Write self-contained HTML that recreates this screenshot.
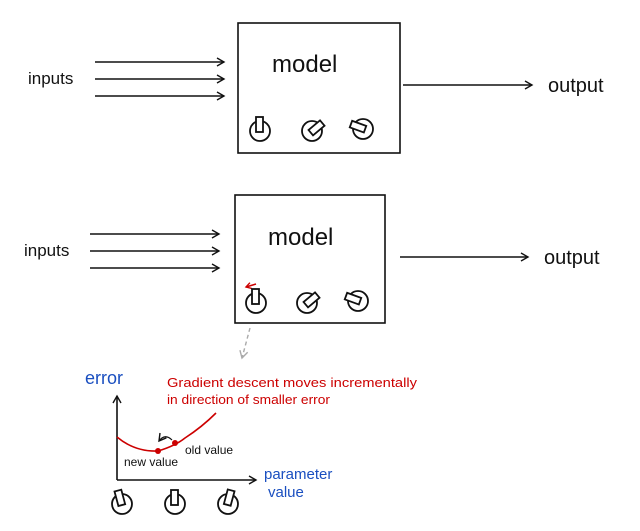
<!DOCTYPE html>
<html><head><style>
body{margin:0;background:#fff;}
svg text{font-family:"Comic Sans MS","Liberation Sans",sans-serif;}
</style></head><body>
<svg width="640" height="526" viewBox="0 0 640 526" xmlns="http://www.w3.org/2000/svg">
<defs>
<marker id="a" markerWidth="10" markerHeight="10" refX="8" refY="5" orient="auto" markerUnits="userSpaceOnUse">
<path d="M1,1 L8,5 L1,9" fill="none" stroke="#111" stroke-width="1.4"/></marker>
<marker id="g" markerWidth="10" markerHeight="10" refX="8" refY="5" orient="auto" markerUnits="userSpaceOnUse">
<path d="M1,1 L8,5 L1,9" fill="none" stroke="#aaa" stroke-width="1.4"/></marker>
<marker id="r" markerWidth="8" markerHeight="8" refX="6" refY="4" orient="auto" markerUnits="userSpaceOnUse">
<path d="M1,1 L6,4 L1,7" fill="none" stroke="#c00" stroke-width="1.4"/></marker>
<g id="k1"><circle r="10" fill="none" stroke="#111" stroke-width="1.8"/><rect x="-4" y="-14" width="7" height="15" fill="#fff" stroke="#111" stroke-width="1.8"/></g>
<g id="k2"><circle r="10" fill="none" stroke="#111" stroke-width="1.8"/><rect x="-3" y="-13" width="7" height="15" fill="#fff" stroke="#111" stroke-width="1.8" transform="rotate(50)"/></g>
<g id="k3"><circle r="10" fill="none" stroke="#111" stroke-width="1.8"/><rect x="-3" y="-13" width="7" height="15" fill="#fff" stroke="#111" stroke-width="1.8" transform="rotate(-70)"/></g>
<g id="k4"><circle r="10" fill="none" stroke="#111" stroke-width="1.8"/><rect x="-4" y="-14" width="7" height="15" fill="#fff" stroke="#111" stroke-width="1.8" transform="rotate(-15)"/></g>
<g id="k5"><circle r="10" fill="none" stroke="#111" stroke-width="1.8"/><rect x="-4" y="-14" width="7" height="15" fill="#fff" stroke="#111" stroke-width="1.8" transform="rotate(15)"/></g>
</defs>
<g stroke="#111" stroke-width="1.6" fill="none">
<rect x="238" y="23" width="162" height="130"/>
<line x1="95" y1="62" x2="224" y2="62" marker-end="url(#a)"/>
<line x1="95" y1="79" x2="224" y2="79" marker-end="url(#a)"/>
<line x1="95" y1="96" x2="224" y2="96" marker-end="url(#a)"/>
<line x1="403" y1="85" x2="532" y2="85" marker-end="url(#a)"/>
<rect x="235" y="195" width="150" height="128"/>
<line x1="90" y1="234" x2="219" y2="234" marker-end="url(#a)"/>
<line x1="90" y1="251" x2="219" y2="251" marker-end="url(#a)"/>
<line x1="90" y1="268" x2="219" y2="268" marker-end="url(#a)"/>
<line x1="400" y1="257" x2="528" y2="257" marker-end="url(#a)"/>
<line x1="117" y1="480" x2="117" y2="396" marker-end="url(#a)"/>
<line x1="117" y1="480" x2="256" y2="480" marker-end="url(#a)"/>
</g>
<line x1="250" y1="328" x2="242" y2="358" stroke="#aaa" stroke-width="1.4" stroke-dasharray="4,3" marker-end="url(#g)"/>
<line x1="256" y1="284" x2="246" y2="287" stroke="#c00" stroke-width="1.6" marker-end="url(#r)"/>
<use href="#k1" x="260" y="131"/><use href="#k2" x="312" y="131"/><use href="#k3" x="363" y="129"/>
<use href="#k1" x="256" y="303"/><use href="#k2" x="307" y="303"/><use href="#k3" x="358" y="301"/>
<use href="#k4" x="122" y="504"/><use href="#k1" x="175" y="504"/><use href="#k5" x="228" y="504"/>
<path d="M117,437 Q135,452 158,451 Q175,446 185,438 Q202,427 216,413" fill="none" stroke="#c00" stroke-width="1.6"/>
<circle cx="158" cy="451" r="3" fill="#c00"/><circle cx="175" cy="443" r="3" fill="#c00"/>
<path d="M172,440 Q165,433 159,441" fill="none" stroke="#111" stroke-width="1.2" marker-end="url(#a)"/>
<g font-size="20" fill="#111">
<text x="28" y="84" font-size="17">inputs</text>
<text x="272" y="72" font-size="24">model</text>
<text x="548" y="92">output</text>
<text x="24" y="256" font-size="17">inputs</text>
<text x="268" y="245" font-size="24">model</text>
<text x="544" y="264">output</text>
</g>
<text x="85" y="384" font-size="18" fill="#1a4fc0">error</text>
<text x="167" y="387" font-size="13" fill="#c00" textLength="250" lengthAdjust="spacingAndGlyphs">Gradient descent moves incrementally</text>
<text x="167" y="404" font-size="13" fill="#c00" textLength="163" lengthAdjust="spacingAndGlyphs">in direction of smaller error</text>
<text x="185" y="454" font-size="12" fill="#111">old value</text>
<text x="124" y="466" font-size="12" fill="#111">new value</text>
<text x="264" y="479" font-size="15" fill="#1a4fc0">parameter</text>
<text x="268" y="497" font-size="15" fill="#1a4fc0">value</text>
</svg>
</body></html>
